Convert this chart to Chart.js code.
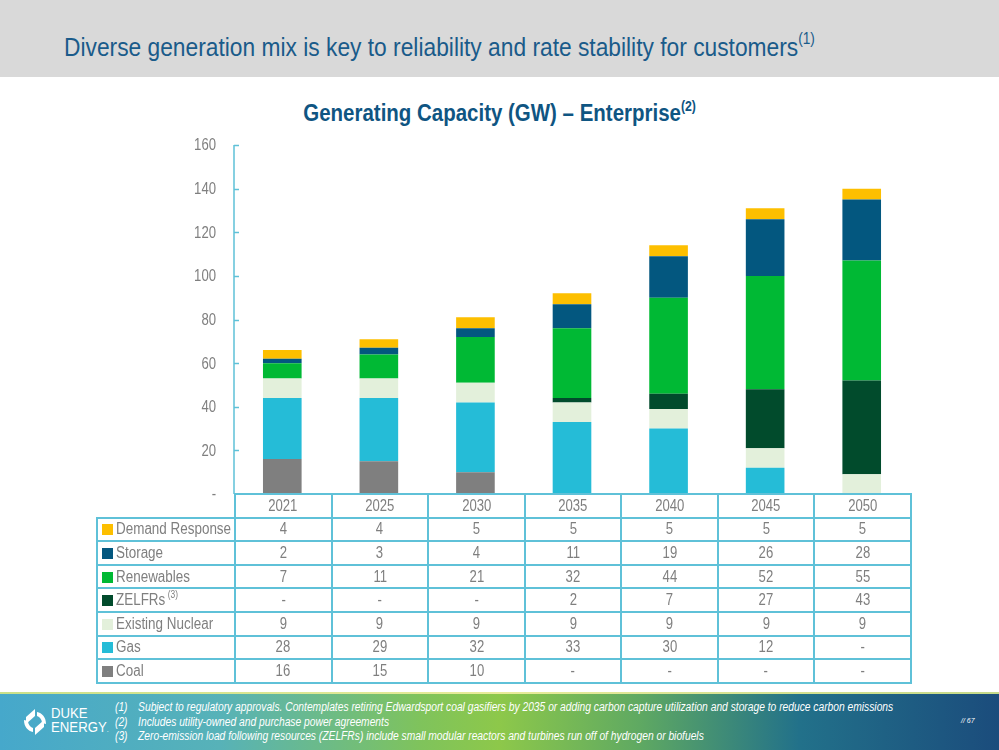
<!DOCTYPE html>
<html>
<head>
<meta charset="utf-8">
<script src="https://cdn.jsdelivr.net/npm/chart.js@4.4.0/dist/chart.umd.min.js"></script>
<style>
  html, body { margin: 0; padding: 0; }
  body { width: 999px; height: 750px; position: relative; overflow: hidden; background: #fff;
         font-family: 'Liberation Sans', Arial, sans-serif; }
  #header { position: absolute; left: 0; top: 0; width: 999px; height: 77px; background: #d9d9d9; }
  #header h1 { position: absolute; left: 64px; top: 32px; margin: 0; font-weight: normal;
               font-size: 26px; color: #1a5b8a; white-space: nowrap;
               transform: scaleX(0.876); transform-origin: left center; }
  sup { font-size: 60%; vertical-align: 0; position: relative; top: -0.75em; line-height: 0; }
  #ctitle { position: absolute; left: 0; width: 999px; top: 100px; text-align: center; }
  #ctitle span { display: inline-block; font-weight: bold; font-size: 23px; color: #0f5582;
                 transform: scaleX(0.89); transform-origin: center; white-space: nowrap; }
  #chart { position: absolute; left: 0; top: 130px; }
  #tbl { position: absolute; left: 96px; top: 493px; width: 814px; border-collapse: collapse; table-layout: fixed; }
  #tbl tr { height: 23.6px; }
  #tbl td { border: 2px solid #5fc1d8; padding: 0; text-align: center;
            font-size: 16px; color: #7f7f7f; line-height: 18px; white-space: nowrap; overflow: visible; }
  #tbl td .v { display: inline-block; transform: scaleX(0.82); transform-origin: center; }
  #tbl td.lab { text-align: left; padding-left: 4px; }
  #tbl td.lab .v { transform-origin: left center; transform: scaleX(0.84); }
  #tbl td.blank { border: none; }
  .sw { display: inline-block; width: 11px; height: 11px; margin-right: 3px; vertical-align: -1px; }
  .lab sup { font-size: 10px; top: -0.7em; margin-left: 3px; }
  #footer { position: absolute; left: 0; top: 692px; width: 999px; height: 58px;
            background: linear-gradient(90deg, #46a8cb 0%, #57b2b8 22%, #7fc35c 42%, #8dc84a 50%, #5fa962 64%, #22718a 80%, #1b4c7c 100%); }
  #footer .line { position: absolute; left: 0; top: 0; width: 999px; height: 2px;
                  background: linear-gradient(90deg, #c9e08a, #e8eb9a 50%, #c4d98a); }
  #notes { position: absolute; left: 115px; top: 8px; color: #fff; font-style: italic; font-size: 12px; line-height: 14.5px;
           transform: scaleX(0.855); transform-origin: left top; white-space: nowrap; }
  #notes span.n { display: inline-block; width: 27px; }
  #page { position: absolute; left: 961px; top: 25px; color: #fff; font-size: 7px; font-style: italic; }
  #logo { position: absolute; left: 22px; top: 13px; width: 85px; height: 34px; color: #fff; }
  #logo .t { position: absolute; left: 29px; top: 1px; font-size: 15px; line-height: 14px;
             transform: scaleX(0.88); transform-origin: left top; }
</style>
</head>
<body>
<div id="header"><h1>Diverse generation mix is key to reliability and rate stability for customers<sup>(1)</sup></h1></div>
<div id="ctitle"><span>Generating Capacity (GW) – Enterprise<sup>(2)</sup></span></div>
<canvas id="chart" width="999" height="374"></canvas>
<table id="tbl"></table>
<div id="footer">
  <div class="line"></div>
  <div id="logo">
    <svg width="26" height="30" viewBox="0 0 26 30" style="position:absolute;left:0;top:2px">
      <path d="M13 2 L4 10 L4 17 L13 9 Z" fill="#fff"/>
      <path d="M13 28 L22 20 L22 13 L13 21 Z" fill="#fff"/>
      <path d="M2 13 C2 20 6 24 11 25 L11 21 C8 20 6 17 6 14 Z" fill="#fff"/>
      <path d="M24 17 C24 10 20 6 15 5 L15 9 C18 10 20 13 20 16 Z" fill="#fff"/>
    </svg>
    <div class="t">DUKE<br>ENERGY<span style="font-size:8px">.</span></div>
  </div>
  <div id="notes">
    <div><span class="n">(1)</span>Subject to regulatory approvals. Contemplates retiring Edwardsport coal gasifiers by 2035 or adding carbon capture utilization and storage to reduce carbon emissions</div>
    <div><span class="n">(2)</span>Includes utility-owned and purchase power agreements</div>
    <div><span class="n">(3)</span>Zero-emission load following resources (ZELFRs) include small modular reactors and turbines run off of hydrogen or biofuels</div>
  </div>
  <div id="page">// 67</div>
</div>

<script>
// categories
const years = ['2021', '2025', '2030', '2035', '2040', '2045', '2050'];

// series values (GW), 0 shown as '-'
const demandResponse = [4, 4, 5, 5, 5, 5, 5];
const storage = [2, 3, 4, 11, 19, 26, 28];
const renewables = [7, 11, 21, 32, 44, 52, 55];
const zelfrs = [0, 0, 0, 2, 7, 27, 43];
const existingNuclear = [9, 9, 9, 9, 9, 9, 9];
const gas = [28, 29, 32, 33, 30, 12, 0];
const coal = [16, 15, 10, 0, 0, 0, 0];

// y axis ticks
const yTicks = [0, 20, 40, 60, 80, 100, 120, 140, 160];

// series in table order (top to bottom)
const series = [
  { name: 'Demand Response', data: demandResponse, color: '#fdbf00' },
  { name: 'Storage', data: storage, color: '#03577f' },
  { name: 'Renewables', data: renewables, color: '#00b934' },
  { name: 'ZELFRs', sup: '(3)', data: zelfrs, color: '#014b2c' },
  { name: 'Existing Nuclear', data: existingNuclear, color: '#e3f0db' },
  { name: 'Gas', data: gas, color: '#25bcd7' },
  { name: 'Coal', data: coal, color: '#7f7f7f' }
];

const AXIS_LEFT = 234;
const AXIS_RIGHT = 910;
const TABLE_LEFT = 96;
const lineColor = '#5fc1d8';

// axis line with inward ticks, and narrow tick labels
const axisPlugin = {
  id: 'axisLine',
  afterDraw(chart) {
    const ctx = chart.ctx;
    const y = chart.scales.y;
    const x0 = chart.chartArea.left;
    ctx.save();
    ctx.strokeStyle = lineColor;
    ctx.lineWidth = 1.5;
    ctx.beginPath();
    ctx.moveTo(x0, y.getPixelForValue(yTicks[yTicks.length - 1]));
    ctx.lineTo(x0, y.getPixelForValue(0));
    yTicks.forEach(v => {
      if (v === 0) return;
      const py = Math.round(y.getPixelForValue(v)) + 0.5;
      ctx.moveTo(x0, py);
      ctx.lineTo(x0 + 5, py);
    });
    ctx.stroke();

    ctx.fillStyle = '#7f7f7f';
    ctx.font = "16px 'Liberation Sans', Arial, sans-serif";
    ctx.textAlign = 'right';
    ctx.textBaseline = 'middle';
    yTicks.forEach(v => {
      ctx.save();
      ctx.translate(x0 - 18, y.getPixelForValue(v) + 1);
      ctx.scale(0.82, 1);
      ctx.fillText(v === 0 ? '-' : String(v), 0, 0);
      ctx.restore();
    });
    ctx.restore();
  }
};

new Chart(document.getElementById('chart'), {
  type: 'bar',
  data: {
    labels: years,
    datasets: series.slice().reverse().map(s => ({
      label: s.name,
      data: s.data,
      backgroundColor: s.color,
      borderWidth: 0,
      categoryPercentage: 0.8,
      barPercentage: 0.5
    }))
  },
  options: {
    responsive: false,
    animation: false,
    layout: { padding: { left: 0, right: 999 - AXIS_RIGHT, top: 15, bottom: 10 } },
    plugins: { legend: { display: false }, tooltip: { enabled: false } },
    scales: {
      x: { stacked: true, display: false },
      y: {
        stacked: true,
        min: 0,
        max: 160,
        afterFit(scale) { scale.width = AXIS_LEFT; },
        grid: { display: false, drawTicks: false },
        border: { display: false },
        ticks: { display: false, stepSize: 20 }
      }
    }
  },
  plugins: [axisPlugin]
});

// data table below the chart
const tbl = document.getElementById('tbl');
const colW = (AXIS_RIGHT - AXIS_LEFT) / years.length;
let html = '<colgroup><col style="width:' + (AXIS_LEFT - TABLE_LEFT) + 'px">';
years.forEach(() => { html += '<col style="width:' + colW + 'px">'; });
html += '</colgroup><tr><td class="blank"></td>';
years.forEach(y => { html += '<td><span class="v">' + y + '</span></td>'; });
html += '</tr>';
series.forEach(s => {
  html += '<tr><td class="lab"><span class="sw" style="background:' + s.color + '"></span><span class="v">' + s.name +
    (s.sup ? '<sup>' + s.sup + '</sup>' : '') + '</span></td>';
  s.data.forEach(v => { html += '<td><span class="v">' + (v === 0 ? '-' : v) + '</span></td>'; });
  html += '</tr>';
});
tbl.innerHTML = html;
</script>
</body>
</html>
